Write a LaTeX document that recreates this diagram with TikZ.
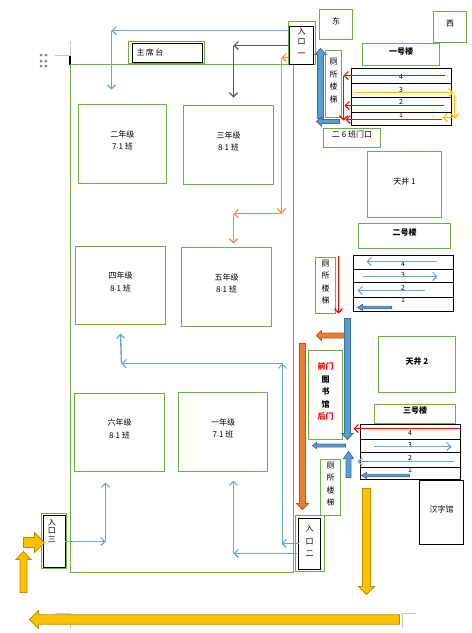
\documentclass[tikz,border=0pt]{standalone}
\usepackage{fontspec}
\setmainfont{Noto Sans CJK SC}
\newfontfamily\latn{Liberation Sans}
\usetikzlibrary{arrows.meta,calc,fit}
\definecolor{gbox}{HTML}{70AD47}
\definecolor{bthin}{HTML}{6FA3DB}
\definecolor{bfill}{HTML}{5B9BD5}
\definecolor{bedge}{HTML}{41719C}
\definecolor{ofill}{HTML}{ED7D31}
\definecolor{oedge}{HTML}{AE5A21}
\definecolor{yfill}{HTML}{FFC000}
\definecolor{yedge}{HTML}{BC8C00}
\definecolor{gthin}{HTML}{F58A42}
\definecolor{crop}{HTML}{C8C8C8}
\newcommand\dotc{{\latn\fontsize{6}{8}\selectfont ·}}
\tikzset{
  gb/.style={draw=gbox,line width=1.3pt,inner sep=0pt,align=center,font=\fontsize{8}{12.5}\selectfont},
  kb/.style={draw=black,line width=1.2pt,inner sep=0pt,align=center,font=\fontsize{8}{12.5}\selectfont},
  lab/.style={inner sep=0pt,align=center,font=\fontsize{8}{12.5}\selectfont},
  num/.style={inner sep=0pt,font=\fontsize{7}{8}\selectfont},
  thin arrow/.style={line width=1.4pt,-{Straight Barb[length=4pt,width=8pt,line width=1.2pt]}},
  blue line/.style={thin arrow,bthin},
  red line/.style={thin arrow,red},
  gold line/.style={thin arrow,yfill},
  orange line/.style={thin arrow,gthin},
  gray line/.style={thin arrow,black!65},
}
% box given by two corners
\newcommand\bx[7]{%
  \path coordinate (#1-a) at (#3,#4) coordinate (#1-b) at (#5,#6);
  \node[#2,fit=(#1-a)(#1-b)] (#1) {#7};}
% block arrow between named coordinates: from,to,body,head width,head length,fill,edge
\newcommand\blk[7]{%
  \coordinate (hb) at ($(#2)!#5pt!(#1)$);
  \draw[fill=#6,draw=#7,line width=.8pt,line join=miter]
    ($(#1)!.5*#3pt!90:(#2)$) -- ($(hb)!.5*#3pt!90:(#2)$) -- ($(hb)!.5*#4pt!90:(#2)$)
    -- (#2) -- ($(hb)!.5*#4pt!-90:(#2)$) -- ($(hb)!.5*#3pt!-90:(#2)$)
    -- ($(#1)!.5*#3pt!-90:(#2)$) -- cycle;}
\begin{document}
\begin{tikzpicture}[x=1pt,y=-1pt]
\useasboundingbox (0,0) rectangle (472,633);
\fill[white] (0,0) rectangle (472,633);
% page marks
\draw[crop,line width=1pt] (70.5,41)--(70.5,56) (55,55.5)--(70.5,55.5);
\draw[crop,line width=1pt] (55,613.5)--(70.5,613.5)--(70.5,628);
\draw[crop,line width=1pt] (402.5,628)--(402.5,613.5)--(416,613.5);
\draw[crop,line width=1pt] (402.5,41)--(402.5,43);
\draw[black,line width=1.5pt] (70,56)--(70,65);
\foreach \dx in {41,46} \foreach \dy in {55,61,66} \fill[black!50] (\dx,\dy) circle (1.5pt);
% main field
\bx{field}{gb}{70.5}{64.5}{293.5}{572.5}{}
% boxes
\bx{stageg}{gb}{128.5}{41.5}{204.5}{63.5}{}
\bx{stage}{kb}{132.5}{43.5}{202.5}{62.5}{}
\node[lab] (stagel) at (150,52) {主\,席\,台};
\bx{g2}{gb}{78.5}{104.5}{166.5}{183.5}{二年级\\7\dotc 1 班}
\bx{g3}{gb}{183.5}{105.5}{273.5}{184.5}{三年级\\8\dotc 1 班}
\bx{g4}{gb}{75.5}{246.5}{165.5}{324.5}{四年级\\8\dotc 1 班}
\bx{g5}{gb}{181.5}{247.5}{271.5}{326.5}{五年级\\8\dotc 1 班}
\bx{g6}{gb}{74.5}{393.5}{164.5}{471.5}{六年级\\8\dotc 1 班}
\bx{g1}{gb}{178.5}{392.5}{267.5}{471.5}{一年级\\7\dotc 1 班}
\bx{e1g}{gb}{288.5}{21.5}{315.5}{64.5}{}
\bx{e1}{kb}{289.5}{26.5}{313.5}{64.5}{\fontsize{8}{10}\selectfont 入\\口\\一}
\bx{east}{gb}{319.5}{9.5}{352.5}{39.5}{东}
\bx{west}{gb}{433.5}{11.5}{466.5}{42.5}{西}
\bx{b1t}{gb}{362.5}{43.5}{439.5}{65.5}{\bfseries 一号楼}
\bx{ws1}{gb}{325.5}{50.5}{341.5}{117.5}{厕\\所\\楼\\梯}
\bx{d26}{gb}{323.5}{128.5}{380.5}{147.5}{二 6 班门口}
\bx{t1}{gb}{367.5}{151.5}{441.5}{217.5}{天井 1}
\bx{b2t}{gb}{358.5}{223.5}{450.5}{248.5}{\bfseries 二号楼}
\bx{ws2}{gb}{315.5}{257.5}{335.5}{313.5}{厕\\所\\楼\\梯}
\bx{t2}{gb}{378.5}{336.5}{455.5}{392.5}{\bfseries 天井 2}
\bx{b3t}{gb}{374.5}{404.5}{455.5}{423.5}{\bfseries 三号楼}
\bx{lib}{gb}{308.5}{350.5}{342.5}{439.5}{\textcolor{red}{\bfseries 前门}\\\bfseries 图\\\bfseries 书\\\bfseries 馆\\\textcolor{red}{\bfseries 后门}}
\bx{ws3}{gb}{320.5}{459.5}{340.5}{515.5}{厕\\所\\楼\\梯}
\bx{e2g}{gb}{295.5}{515.5}{324.5}{571.5}{}
\bx{e2}{kb}{298.5}{518.5}{320.5}{569.5}{入\\口\\二}
\bx{e3g}{gb}{41.5}{513.5}{66.5}{568.5}{}
\bx{e3}{kb}{43.5}{515.5}{65.5}{567.5}{}
\node[lab,font=\fontsize{8}{8.6}\selectfont] (e3l) at (52,530.5) {入\\口\\三};
\bx{han}{kb}{419.5}{480.5}{463.5}{544.5}{汉字馆}
% building tables
\bx{ra4}{kb}{351.5}{68.5}{451.5}{83.5}{}
\bx{ra3}{kb}{351.5}{83.5}{451.5}{97.5}{}
\bx{ra2}{kb}{351.5}{97.5}{451.5}{112.5}{}
\bx{ra1}{kb}{351.5}{112.5}{451.5}{125.5}{}
\bx{rb4}{kb}{353.5}{255.5}{453.5}{269.5}{}
\bx{rb3}{kb}{353.5}{269.5}{453.5}{282.5}{}
\bx{rb2}{kb}{353.5}{282.5}{453.5}{297.5}{}
\bx{rb1}{kb}{353.5}{297.5}{453.5}{311.5}{}
\bx{rc4}{kb}{360.5}{424.5}{460.5}{439.5}{}
\bx{rc3}{kb}{360.5}{439.5}{460.5}{452.5}{}
\bx{rc2}{kb}{360.5}{452.5}{460.5}{467.5}{}
\bx{rc1}{kb}{360.5}{467.5}{460.5}{479.5}{}
\node[num] (la4) at (401,77) {4};
\node[num] (la3) at (401,90) {3};
\node[num] (la2) at (401,102) {2};
\node[num] (la1) at (401,115) {1};
\node[num] (lb4) at (403,264) {4};
\node[num] (lb3) at (403,275) {3};
\node[num] (lb2) at (403,288) {2};
\node[num] (lb1) at (403,300) {1};
\node[num] (lc4) at (410,433) {4};
\node[num] (lc3) at (410,445) {3};
\node[num] (lc2) at (410,458) {2};
\node[num] (lc1) at (410,470) {1};
\begin{scope}[shift={(.5,.5)}]
% connector ends
\path coordinate (n1) at (288,30) coordinate (n2) at (111,30) coordinate (n3) at (111,89)
  coordinate (k1) at (289,45) coordinate (k2) at (233,45) coordinate (k3) at (233,97)
  coordinate (o1) at (288,57) coordinate (o2) at (281,57) coordinate (o3) at (281,213)
  coordinate (o4) at (233,213) coordinate (o5) at (233,243)
  coordinate (u1) at (282,544) coordinate (u2) at (282,363) coordinate (u3) at (121,363) coordinate (u4) at (120,333)
  coordinate (v1) at (298,543) coordinate (v2) at (281,543)
  coordinate (w1) at (296,553) coordinate (w2) at (233,553) coordinate (w3) at (233,480)
  coordinate (z1) at (64,541) coordinate (z2) at (105,541) coordinate (z3) at (105,482);
\draw[blue line] (n1)--(n2);
\draw[blue line] (n2)--(n3);
\draw[gray line] (k1)--(k2);
\draw[gray line] (k2)--(k3);
\draw[orange line] (o1)--(o2);
\draw[orange line] (o2)--(o3);
\draw[orange line] (o3)--(o4);
\draw[orange line] (o4)--(o5);
\draw[blue line] (u1)--(u2);
\draw[blue line] (u2)--(u3);
\draw[blue line] (u3)--(u4);
\draw[blue line] (v1)--(v2);
\draw[blue line] (w1)--(w2);
\draw[blue line] (w2)--(w3);
\draw[blue line] (z1)--(z2);
\draw[blue line] (z2)--(z3);
% building 1 arrows
\path coordinate (a1) at (444,75) coordinate (a2) at (343,75) coordinate (a3) at (343,120)
  coordinate (a4) at (443,105) coordinate (a5) at (344,105)
  coordinate (a6) at (441,119) coordinate (a7) at (345,119)
  coordinate (a8) at (353,92) coordinate (a9) at (453,92)
  coordinate (a10) at (454,94) coordinate (a11) at (454,118)
  coordinate (a12) at (451,117) coordinate (a13) at (442,117);
\draw[red line] (a1)--(a2);
\draw[red line] (a2)--(a3);
\draw[red line] (a4)--(a5);
\draw[red line] (a6)--(a7);
\draw[gold line] (a8)--(a9);
\draw[gold line] (a10)--(a11);
\draw[gold line] (a12)--(a13);
% building 2 arrows
\path coordinate (b1) at (436,261) coordinate (b2) at (366,261)
  coordinate (b3) at (362,276) coordinate (b4) at (437,276)
  coordinate (b5) at (424,290) coordinate (b6) at (357,290)
  coordinate (b7) at (391,307) coordinate (b8) at (357,307)
  coordinate (b9) at (338,255) coordinate (b10) at (338,313);
\draw[blue line] (b1)--(b2);
\draw[blue line] (b3)--(b4);
\draw[blue line] (b5)--(b6);
\blk{b7}{b8}{2.5}{6}{5}{bfill}{bedge}
\draw[red line] (b9)--(b10);
% building 3 arrows
\path coordinate (c1) at (459,428) coordinate (c2) at (353,428)
  coordinate (c3) at (373,446) coordinate (c4) at (451,446)
  coordinate (c5) at (453,461) coordinate (c6) at (357,461)
  coordinate (c7) at (409,475) coordinate (c8) at (361,475);
\draw[red line] (c1)--(c2);
\draw[blue line] (c3)--(c4);
\draw[blue line] (c5)--(c6);
\blk{c7}{c8}{2.5}{6}{5}{bfill}{bedge}
% block arrows
\path coordinate (p1) at (320,118) coordinate (p2) at (320,48)
  coordinate (p3) at (339,121) coordinate (p4) at (316,121)
  coordinate (q1) at (347,318) coordinate (q2) at (347,439)
  coordinate (q3) at (345,335) coordinate (q4) at (316,335)
  coordinate (q5) at (302,343) coordinate (q6) at (302,509)
  coordinate (q7) at (345,445) coordinate (q8) at (312,445)
  coordinate (q9) at (348,477) coordinate (q10) at (348,451)
  coordinate (y1) at (366,488) coordinate (y2) at (366,594)
  coordinate (y3) at (399,619) coordinate (y4) at (29,619)
  coordinate (y5) at (23,542) coordinate (y6) at (44,542)
  coordinate (y7) at (23,592) coordinate (y8) at (23,551);
\blk{p1}{p2}{6}{11}{6}{bfill}{bedge}
\blk{p3}{p4}{4}{9}{5}{bfill}{bedge}
\blk{q3}{q4}{5}{10}{5}{ofill}{oedge}
\blk{q1}{q2}{6}{11}{6}{bfill}{bedge}
\blk{q5}{q6}{6}{12}{6}{ofill}{oedge}
\blk{q7}{q8}{3}{6}{4}{bfill}{bedge}
\blk{q9}{q10}{5}{10}{7}{bfill}{bedge}
\blk{y1}{y2}{8}{16}{8}{yfill}{yedge}
\blk{y3}{y4}{9.5}{18}{9}{yfill}{yedge}
\blk{y5}{y6}{10}{20}{10}{yfill}{yedge}
\blk{y7}{y8}{7}{15}{8}{yfill}{yedge}
\end{scope}
\end{tikzpicture}
\end{document}
